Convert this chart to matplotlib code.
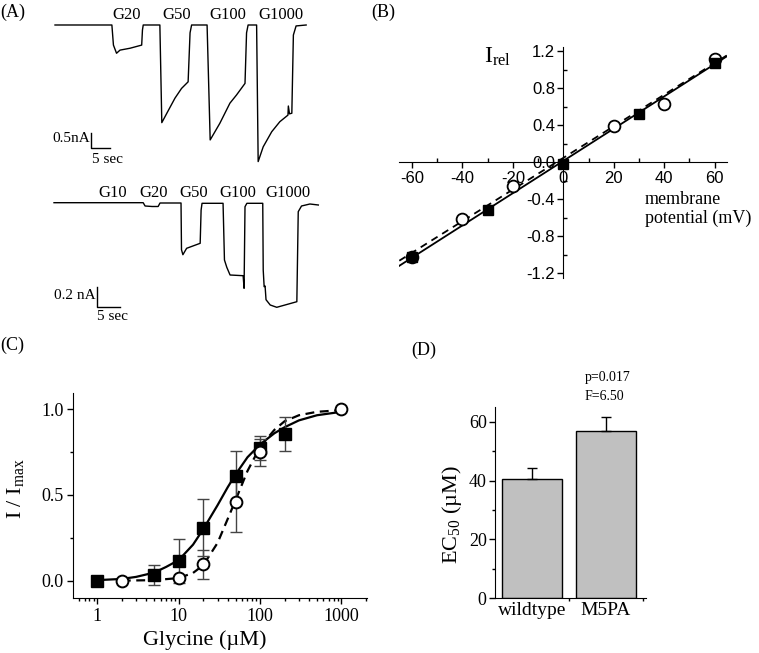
import matplotlib
matplotlib.use("Agg")
import matplotlib.pyplot as plt
from matplotlib.ticker import MultipleLocator, FixedLocator, NullFormatter

SERIF = "Liberation Serif"
SANS = "Liberation Sans"
plt.rcParams["font.family"] = [SERIF, "DejaVu Serif"]
plt.rcParams["mathtext.fontset"] = "custom"
plt.rcParams["mathtext.rm"] = SERIF
plt.rcParams["mathtext.it"] = SERIF + ":italic"

# ---------------- Panel A data: current traces (time s, current nA) -------------
top_t = [0.0, 14.7, 15.1, 15.9, 16.8, 19.4, 22.4, 22.6, 22.8, 27.1, 27.6, 28.9, 31.0,
         32.7, 34.4, 34.9, 35.3, 39.3, 40.1, 42.6, 45.2, 46.9, 49.1, 49.5, 49.9, 52.1,
         52.5, 53.8, 56.0, 58.1, 60.2, 60.3, 60.6, 61.2, 61.6, 62.3, 64.9]
top_i = [0.0, 0.0, -0.64, -0.90, -0.80, -0.74, -0.64, -0.16, 0.0, 0.0, -3.11, -2.81, -2.33,
         -2.02, -1.81, -0.25, 0.0, 0.0, -3.66, -3.13, -2.49, -2.23, -1.86, -0.25, 0.0, 0.0,
         -4.35, -3.88, -3.40, -3.08, -2.87, -2.58, -2.83, -2.81, -0.32, -0.03, 0.0]
top_labels = ["G20", "G50", "G100", "G1000"]
top_label_t = [18.5, 31.5, 44.7, 58.4]

bot_t = [0.0, 19.1, 19.5, 21.0, 22.3, 22.7, 27.2, 27.3, 27.6, 28.4, 31.3, 31.5, 31.7, 36.2,
         36.5, 37.0, 37.7, 40.5, 40.7, 40.9, 41.3, 44.7, 44.8, 45.0, 45.2, 45.4, 46.3, 47.7,
         52.0, 52.3, 53.0, 54.8, 56.6]
bot_i = [0.0, 0.0, -0.033, -0.038, -0.038, -0.003, -0.003, -0.47, -0.52, -0.456, -0.406,
         -0.073, -0.006, -0.006, -0.573, -0.646, -0.723, -0.73, -0.856, -0.04, -0.006, -0.006,
         -0.673, -0.84, -0.833, -0.97, -1.023, -1.046, -0.99, -0.09, -0.033, -0.013, -0.023]
bot_labels = ["G10", "G20", "G50", "G100", "G1000"]
bot_label_t = [12.5, 21.4, 30.0, 39.4, 50.1]

# ---------------- Panel B data: I-V relation -------------
iv_circ_v = [-60, -40, -20, 20, 40, 60]
iv_circ_i = [-1.02, -0.61, -0.26, 0.39, 0.63, 1.12]
iv_sq_v = [-60, -30, 0, 30, 60]
iv_sq_i = [-1.02, -0.52, -0.02, 0.52, 1.08]
fit_solid_v = [-65, 65]
fit_solid_i = [-1.12, 1.15]
fit_dash_v = [-65, 65]
fit_dash_i = [-1.065, 1.16]
iv_xticks = [-60, -40, -20, 0, 20, 40, 60]
iv_yticks = [-1.2, -0.8, -0.4, 0.0, 0.4, 0.8, 1.2]

# ---------------- Panel C data: dose response -------------
wt_conc = [1, 5, 10, 20, 50, 100, 200]
wt_resp = [0.0, 0.033, 0.115, 0.31, 0.613, 0.776, 0.856]
wt_err = [0.0, 0.06, 0.13, 0.165, 0.146, 0.07, 0.097]
mut_conc = [2, 10, 20, 50, 100, 1000]
mut_resp = [0.0, 0.014, 0.095, 0.457, 0.749, 1.0]
mut_err = [0.0, 0.0, 0.085, 0.175, 0.08, 0.0]
curve_wt_x = [1, 2, 3, 5, 7, 10, 15, 20, 30, 40, 50, 70, 100, 150, 200, 300, 500, 1000]
curve_wt_y = [0.003, 0.01, 0.022, 0.047, 0.08, 0.12, 0.21, 0.30, 0.44, 0.545, 0.62, 0.72,
              0.795, 0.86, 0.895, 0.935, 0.965, 0.985]
curve_mut_x = [2, 5, 10, 15, 20, 30, 40, 50, 70, 100, 150, 200, 300, 500, 1000]
curve_mut_y = [0.0, 0.003, 0.015, 0.045, 0.09, 0.22, 0.36, 0.47, 0.64, 0.78, 0.88, 0.93,
               0.965, 0.985, 0.995]

# ---------------- Panel D data: EC50 bars -------------
groups = ["wildtype", "M5PA"]
ec50 = [40.4, 56.9]
ec50_err = [4.0, 4.6]
stats_text = ["p=0.017", "F=6.50"]

fig = plt.figure(figsize=(7.59, 6.53), dpi=100)
W, H = 759.0, 653.0

def fx(px):
    return px / W

def fy(py):
    return 1 - py / H

# panel letters
fig.text(fx(0), fy(12), "(A)", fontsize=13, va="center", ha="left")
fig.text(fx(371), fy(12), "(B)", fontsize=13, va="center", ha="left")
fig.text(fx(0), fy(345), "(C)", fontsize=13, va="center", ha="left")
fig.text(fx(411), fy(350), "(D)", fontsize=13, va="center", ha="left")

# ---------------- Panel A -------------
axa1 = fig.add_axes([fx(50), fy(170), 270 / W, 170 / H])
axa1.plot(top_t, top_i, color="black", lw=1.0)
axa1.set_xlim(-1.292, 68.48)
axa1.set_ylim(-4.618, 0.796)
axa1.axis("off")
for lab, t in zip(top_labels, top_label_t):
    axa1.text(t, 0.32, lab, ha="center", va="center", fontsize=12)
axa1.plot([9.22, 9.22, 14.22], [-3.43, -3.93, -3.93], color="black", lw=1.0)
axa1.text(9.0, -3.62, "0.5nA", ha="right", va="center", fontsize=11)
axa1.text(9.5, -4.27, "5 sec", ha="left", va="center", fontsize=11)

axa2 = fig.add_axes([fx(50), fy(325), 275 / W, 150 / H])
axa2.plot(bot_t, bot_i, color="black", lw=1.0)
axa2.set_xlim(-0.857, 58.03)
axa2.set_ylim(-1.223, 0.277)
axa2.axis("off")
for lab, t in zip(bot_labels, bot_label_t):
    axa2.text(t, 0.10, lab, ha="center", va="center", fontsize=12)
axa2.plot([9.14, 9.14, 14.14], [-0.84, -1.04, -1.04], color="black", lw=1.0)
axa2.text(8.9, -0.93, "0.2 nA", ha="right", va="center", fontsize=11)
axa2.text(9.3, -1.14, "5 sec", ha="left", va="center", fontsize=11)

# ---------------- Panel B -------------
axb = fig.add_axes([fx(399.3), fy(277.8), 328 / W, 231 / H])
axb.plot(fit_solid_v, fit_solid_i, color="black", lw=1.3, zorder=2)
axb.plot(fit_dash_v, fit_dash_i, color="black", lw=1.3, ls=(0, (4, 3)), zorder=2)
axb.plot(iv_circ_v, iv_circ_i, "o", ms=8.5, mfc="white", mec="black", mew=1.3, zorder=3)
axb.plot(iv_sq_v, iv_sq_i, "s", ms=7.5, mfc="black", mec="black", zorder=4)
axb.set_xlim(-65, 65)
axb.set_ylim(-1.25, 1.25)
for s in ["top", "right"]:
    axb.spines[s].set_visible(False)
axb.spines["left"].set_position(("data", 0))
axb.spines["bottom"].set_position(("data", 0))
axb.set_xticks(iv_xticks)
axb.set_xticklabels([str(v) for v in iv_xticks], fontfamily=SANS, fontsize=12)
axb.set_yticks(iv_yticks)
axb.set_yticklabels(["%.1f" % v for v in iv_yticks], fontfamily=SANS, fontsize=12)
axb.xaxis.set_minor_locator(MultipleLocator(10))
axb.yaxis.set_minor_locator(MultipleLocator(0.2))
axb.tick_params(which="major", direction="out", length=4, width=1, pad=2)
axb.tick_params(which="minor", direction="in", length=3, width=1)
fig.text(fx(484), fy(63), r"I$_{\rm rel}$", fontsize=17, ha="left", va="baseline")
fig.text(fx(645), fy(200), "membrane", fontsize=13, ha="left", va="center")
fig.text(fx(645), fy(218), "potential (mV)", fontsize=13, ha="left", va="center")

# ---------------- Panel C -------------
axc = fig.add_axes([fx(73.3), fy(598.3), 293.4 / W, 205 / H])
axc.plot(curve_wt_x, curve_wt_y, color="black", lw=1.6, zorder=2)
axc.plot(curve_mut_x, curve_mut_y, color="black", lw=1.6, ls=(0, (4, 2.5)), zorder=2)
axc.errorbar(wt_conc, wt_resp, yerr=wt_err, fmt="none", ecolor="#444444", elinewidth=1.0,
             capsize=4, capthick=1.0, zorder=3)
axc.errorbar(mut_conc, mut_resp, yerr=mut_err, fmt="none", ecolor="#444444", elinewidth=1.0,
             capsize=4, capthick=1.0, zorder=3)
axc.plot(wt_conc, wt_resp, "s", ms=8, mfc="black", mec="black", zorder=4)
axc.plot(mut_conc, mut_resp, "o", ms=8.5, mfc="white", mec="black", mew=1.4, zorder=5)
axc.set_xscale("log")
axc.set_xlim(0.507, 2040)
axc.set_ylim(-0.103, 1.093)
for s in ["top", "right"]:
    axc.spines[s].set_visible(False)
axc.set_xticks([1, 10, 100, 1000])
axc.set_xticklabels(["1", "10", "100", "1000"], fontsize=13)
axc.set_yticks([0.0, 0.5, 1.0])
axc.set_yticklabels(["0.0", "0.5", "1.0"], fontsize=13)
axc.yaxis.set_minor_locator(FixedLocator([0.25, 0.75]))
axc.tick_params(which="major", direction="out", length=4, width=1, pad=3)
axc.tick_params(which="minor", direction="out", length=2.5, width=1)
axc.xaxis.set_minor_formatter(NullFormatter())
fig.text(fx(205), fy(640), "Glycine (\u00b5M)", fontsize=16, ha="center", va="center")
fig.text(fx(16), fy(489), r"I / I$_{\rm max}$", fontsize=16, ha="center", va="center",
         rotation=90)

# ---------------- Panel D -------------
axd = fig.add_axes([fx(495), fy(598.3), 151 / W, 191.6 / H])
xpos = list(range(len(groups)))
axd.bar(xpos, ec50, width=0.8, color="#c0c0c0", edgecolor="black", linewidth=1.0, zorder=2)
axd.errorbar(xpos, ec50, yerr=[[0] * len(ec50), ec50_err], fmt="none", ecolor="black",
             elinewidth=1.0, capsize=3.5, capthick=1.0, zorder=3)
axd.set_xlim(-0.5, 1.54)
axd.set_ylim(0, 65.1)
for s in ["top", "right"]:
    axd.spines[s].set_visible(False)
axd.set_xticks(xpos)
axd.set_xticklabels(groups, fontsize=14)
axd.tick_params(axis="x", which="major", length=0, pad=3)
axd.xaxis.set_minor_locator(FixedLocator([0.5, 1.5]))
axd.set_yticks([0, 20, 40, 60])
axd.set_yticklabels(["0", "20", "40", "60"], fontsize=13)
axd.yaxis.set_minor_locator(FixedLocator([10, 30, 50]))
axd.tick_params(axis="y", which="major", direction="out", length=4, width=1, pad=2)
axd.tick_params(which="minor", direction="out", length=2.5, width=1)
fig.text(fx(452), fy(515), "EC$_{50}$ (\u00b5M)", fontsize=16, ha="center", va="center",
         rotation=90)
fig.text(fx(585), fy(378), stats_text[0], fontsize=10, ha="left", va="center")
fig.text(fx(585), fy(396), stats_text[1], fontsize=10, ha="left", va="center")

fig.savefig("out.png", dpi=100)
